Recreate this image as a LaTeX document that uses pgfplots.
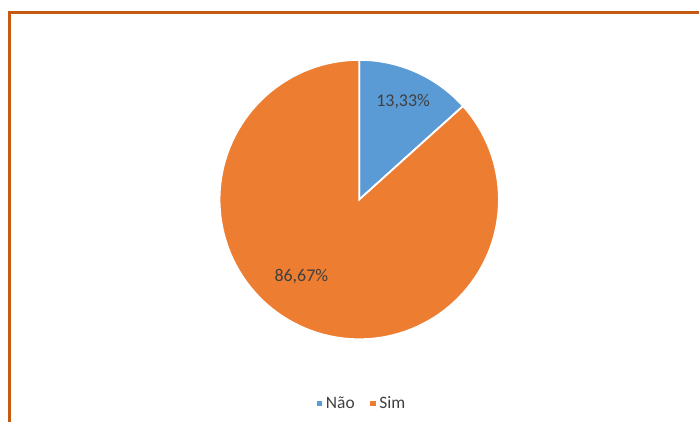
\documentclass[border=0pt]{standalone}
\usepackage{fontspec}
\setmainfont{Carlito}
\usepackage{pgfplots}
\pgfplotsset{compat=1.18}
\definecolor{pieblue}{HTML}{5B9BD5}
\definecolor{pieorange}{HTML}{ED7D31}
\definecolor{frame}{HTML}{C55A11}
\definecolor{txt}{HTML}{404040}
\begin{document}
\begin{tikzpicture}
% values (percent)
\def\valnao{13.33}
\def\valsim{86.67}
\pgfmathsetmacro{\angA}{90}
\pgfmathsetmacro{\angB}{90-3.6*\valnao}
\pgfmathsetmacro{\angC}{90-3.6*(\valnao+\valsim)}
\begin{axis}[
  scale only axis, width=700bp, height=423bp,
  xmin=0, xmax=700, ymin=0, ymax=423,
  hide axis, clip=false,
  legend style={draw=none, fill=none, at={(axis cs:362,19)}, anchor=center,
    font=\fontsize{17.5}{19}\selectfont\color{txt}, legend columns=2,
    /tikz/every even column/.append style={column sep=12bp},
    cells={anchor=west}},
  legend image code/.code={\fill[#1] (0bp,-3.5bp) rectangle (7bp,3.5bp);},
]
\path (axis cs:0,0) rectangle (axis cs:700,423);
\addplot[fill=pieblue, draw=white, line width=1.8bp, domain=\angB:\angA, samples=40, variable=\t]
  ({360+140*cos(\t)}, {223+140*sin(\t)}) -- (axis cs:360,223) -- cycle;
\addlegendentry{Não}
\addplot[fill=pieorange, draw=white, line width=1.8bp, domain=\angC:\angB, samples=120, variable=\t]
  ({360+140*cos(\t)}, {223+140*sin(\t)}) -- (axis cs:360,223) -- cycle;
\addlegendentry{Sim}
\node[font=\fontsize{18}{20}\selectfont, text=txt] at (axis cs:404,321) {13,33\%};
\node[font=\fontsize{18}{20}\selectfont, text=txt] at (axis cs:302,146) {86,67\%};
\draw[frame, line width=3bp] (axis cs:10,0) -- (axis cs:10,410) -- (axis cs:700,410);
\end{axis}
\end{tikzpicture}
\end{document}
